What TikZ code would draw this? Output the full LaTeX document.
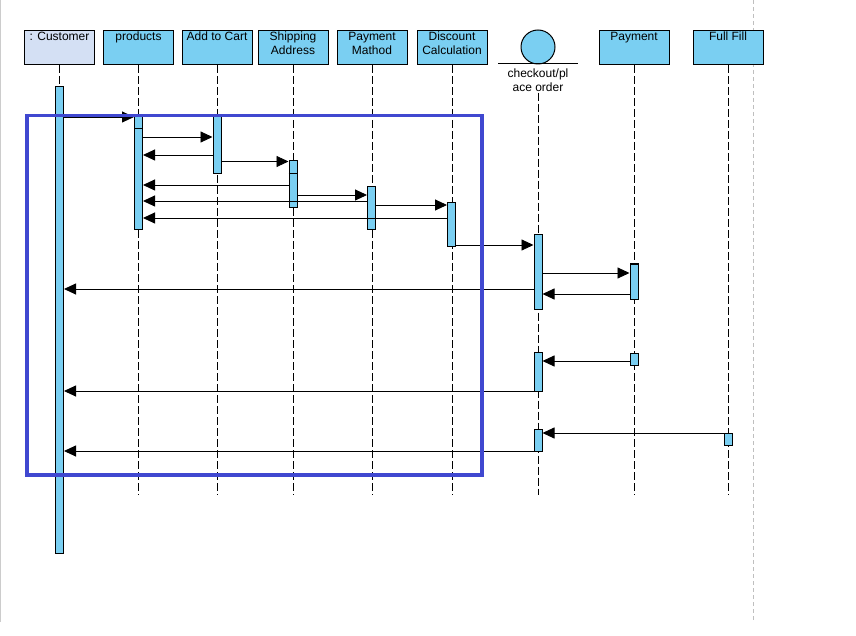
\documentclass[tikz,border=0pt]{standalone}
\usepackage{fontspec}
\setmainfont{Liberation Sans}
\usetikzlibrary{arrows.meta}
\definecolor{barblue}{RGB}{122,207,242}
\definecolor{custfill}{RGB}{212,224,244}
\definecolor{frameblue}{RGB}{64,72,208}

\begin{document}
\begin{tikzpicture}[x=1pt,y=-1pt,font=\fontsize{12}{14}\selectfont,
	head/.style={draw,line width=1pt,fill=barblue,minimum width=70pt,minimum height=34pt,inner sep=0pt},
	headtext/.style={anchor=north,inner sep=2pt,align=center},
	life/.style={line width=0.8pt,dash pattern=on 8pt off 3pt},
	bar/.style={draw,line width=1pt,fill=barblue,minimum width=8pt,inner sep=0pt},
	msg/.style={line width=0.9pt,-{Triangle[length=12pt,width=11pt]}}]
	\useasboundingbox (0,0) rectangle (856,636);
	\draw[gray!40] (0.5,0) -- (0.5,622);
	\draw[gray!50,dash pattern=on 4pt off 3pt] (753,0) -- (753,622);

	\node[head,fill=custfill,label={[headtext]north:{: Customer}}] (cust) at (59.5,47.5) {};
	\node[head,label={[headtext]north:products}] (prod) at (138.5,47.5) {};
	\node[head,label={[headtext]north:Add to Cart}] (cart) at (217,47.5) {};
	\node[head,label={[headtext]north:Shipping\\Address}] (ship) at (293,47.5) {};
	\node[head,label={[headtext]north:Payment\\Mathod}] (pm) at (372,47.5) {};
	\node[head,label={[headtext]north:Discount\\Calculation}] (disc) at (452,47.5) {};
	\node[circle,draw,line width=1pt,fill=barblue,minimum size=34pt,inner sep=0pt] (chk) at (538,47) {};
	\draw[line width=1pt] (498,64) -- (578,64);
	\node[align=center,inner sep=1pt] (chklbl) at (538,80) {checkout/pl\\ace order};
	\node[head,label={[headtext]north:Payment}] (pay) at (634,47.5) {};
	\node[head,label={[headtext]north:Full Fill}] (ful) at (728,47.5) {};

	\coordinate (bottom) at (0,495);
	\foreach \n in {cust,prod,cart,ship,pm,disc,pay,ful}
		\draw[life] (\n.south) -- (\n.south |- bottom);
	\draw[life] (chklbl.south) -- (chklbl.south |- bottom);

	\node[bar,minimum height=466pt] (custbar) at (59.5,320) {};
	\node[bar,minimum height=113pt] (prodbar) at (138.5,173.5) {};
	\draw[line width=1pt] (prodbar.west |- 0,129) -- (prodbar.east |- 0,129);
	\node[bar,minimum height=57pt] (cartbar) at (217,145.5) {};
	\node[bar,minimum height=47pt] (shipbar) at (293,184.5) {};
	\draw[line width=1.5pt] (shipbar.west |- 0,173.5) -- (shipbar.east |- 0,173.5);
	\node[bar,minimum height=43pt] (pmbar) at (371.5,208.5) {};
	\node[bar,minimum height=44pt] (discbar) at (451.5,225) {};
	\node[bar,minimum height=74pt] (chkbar1) at (538,272) {};
	\node[bar,minimum height=35pt] (paybar1) at (634,281.5) {};
	\node[bar,minimum height=39pt] (chkbar2) at (538,371.5) {};
	\node[bar,minimum height=12pt] (paybar2) at (634,359) {};
	\node[bar,minimum height=22pt] (chkbar3) at (538,440) {};
	\node[bar,minimum height=12pt] (fulbar) at (728,439) {};

	\foreach \y/\a/\b in {117/custbar.east/prodbar.west, 137/prodbar.east/cartbar.west,
		155/cartbar.west/prodbar.east, 161.5/cartbar.east/shipbar.west,
		185/shipbar.west/prodbar.east, 195/shipbar.east/pmbar.west,
		201/pmbar.west/prodbar.east, 205/pmbar.east/discbar.west,
		218/discbar.west/prodbar.east, 245/discbar.east/chkbar1.west,
		273/chkbar1.east/paybar1.west, 294/paybar1.west/chkbar1.east,
		289/chkbar1.west/custbar.east, 361/paybar2.west/chkbar2.east,
		391/chkbar2.west/custbar.east, 433/fulbar.west/chkbar3.east,
		451/chkbar3.west/custbar.east}
		\draw[msg] (\a |- 0,\y) -- (\b |- 0,\y);

	\draw[frameblue,line width=3.5pt] (27,115.5) rectangle (482,475);
\end{tikzpicture}
\end{document}
